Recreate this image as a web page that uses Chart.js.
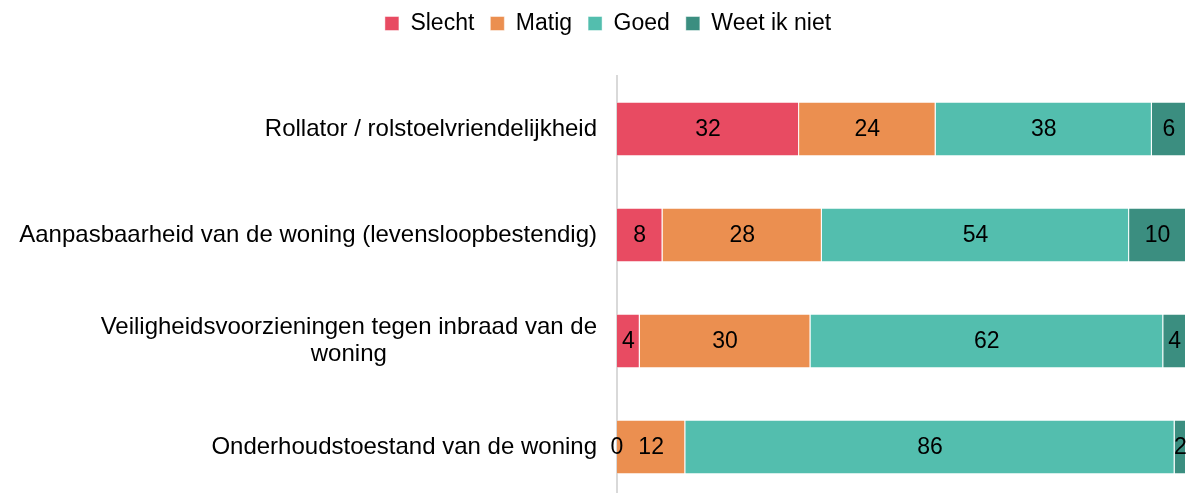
<!DOCTYPE html>
<html>
<head>
<meta charset="utf-8">
<script src="https://cdn.jsdelivr.net/npm/chart.js@4/dist/chart.umd.min.js"></script>
<style>
  html, body { margin: 0; padding: 0; background: #fff; overflow: hidden; }
  #wrap { width: 1189px; height: 493px; overflow: hidden; }
</style>
</head>
<body>
<div id="wrap"><canvas id="barChart" width="1189" height="500"></canvas></div>
<script>
const categories = [
  ["Rollator / rolstoelvriendelijkheid"],
  ["Aanpasbaarheid van de woning (levensloopbestendig)"],
  ["Veiligheidsvoorzieningen tegen inbraad van de", "woning"],
  ["Onderhoudstoestand van de woning"],
];
const slecht = [32, 8, 4, 0];
const matig = [24, 28, 30, 12];
const goed = [38, 54, 62, 86];
const weetNiet = [6, 10, 4, 2];

const font = "'Liberation Sans', Arial, sans-serif";

// extra room under the legend
const legendMargin = {
  id: "legendMargin",
  beforeInit(chart) {
    const fit = chart.legend.fit;
    chart.legend.fit = function () {
      fit.bind(chart.legend)();
      this.height += 31;
    };
  },
};

// category labels left of the axis, lines centred on each other
const catLabels = {
  id: "catLabels",
  afterDraw(chart) {
    const ctx = chart.ctx;
    const y = chart.scales.y;
    const right = chart.chartArea.left - 20;
    const lineH = 27;
    ctx.save();
    ctx.font = "24px " + font;
    ctx.fillStyle = "#000";
    ctx.textBaseline = "middle";
    ctx.textAlign = "center";
    categories.forEach((lines, i) => {
      const cy = y.getPixelForValue(i);
      const w = Math.max(...lines.map((l) => ctx.measureText(l).width));
      const cx = right - w / 2;
      lines.forEach((l, j) => {
        ctx.fillText(l, cx, cy + (j - (lines.length - 1) / 2) * lineH);
      });
    });
    ctx.restore();
  },
};

// value in the middle of each segment
const valueLabels = {
  id: "valueLabels",
  afterDatasetsDraw(chart) {
    const ctx = chart.ctx;
    ctx.save();
    ctx.font = "23px " + font;
    ctx.fillStyle = "#000";
    ctx.textAlign = "center";
    ctx.textBaseline = "middle";
    chart.data.datasets.forEach((ds, di) => {
      chart.getDatasetMeta(di).data.forEach((bar, i) => {
        ctx.fillText(String(ds.data[i]), (bar.x + bar.base) / 2, bar.y + 1);
      });
    });
    ctx.restore();
  },
};

const ctx = document.getElementById("barChart").getContext("2d");
new Chart(ctx, {
  type: "bar",
  data: {
    labels: categories.map((c) => c.join(" ")),
    datasets: [
      { label: "Slecht", data: slecht, backgroundColor: "#E84B62" },
      { label: "Matig", data: matig, backgroundColor: "#EB8F50" },
      { label: "Goed", data: goed, backgroundColor: "#53BEAE" },
      { label: "Weet ik niet", data: weetNiet, backgroundColor: "#3B8E80" },
    ],
  },
  options: {
    indexAxis: "y",
    responsive: false,
    animation: false,
    layout: { padding: { left: 30, right: 3, top: -4, bottom: 0 } },
    datasets: {
      bar: {
        categoryPercentage: 1,
        barPercentage: 0.515,
        borderWidth: 1,
        borderColor: "rgba(255,255,255,0.45)",
      },
    },
    plugins: {
      legend: {
        position: "top",
        labels: {
          boxWidth: 14,
          boxHeight: 14,
          padding: 16,
          color: "#000",
          font: { family: font, size: 23 },
        },
      },
      tooltip: { enabled: false },
    },
    scales: {
      x: { stacked: true, display: false, min: 0, max: 100 },
      y: {
        stacked: true,
        grid: { display: false },
        ticks: { display: false },
        border: { display: true, color: "#D9D9D9", width: 2 },
        afterFit(scale) {
          scale.width = 587;
        },
      },
    },
  },
  plugins: [legendMargin, catLabels, valueLabels],
});
</script>
</body>
</html>
